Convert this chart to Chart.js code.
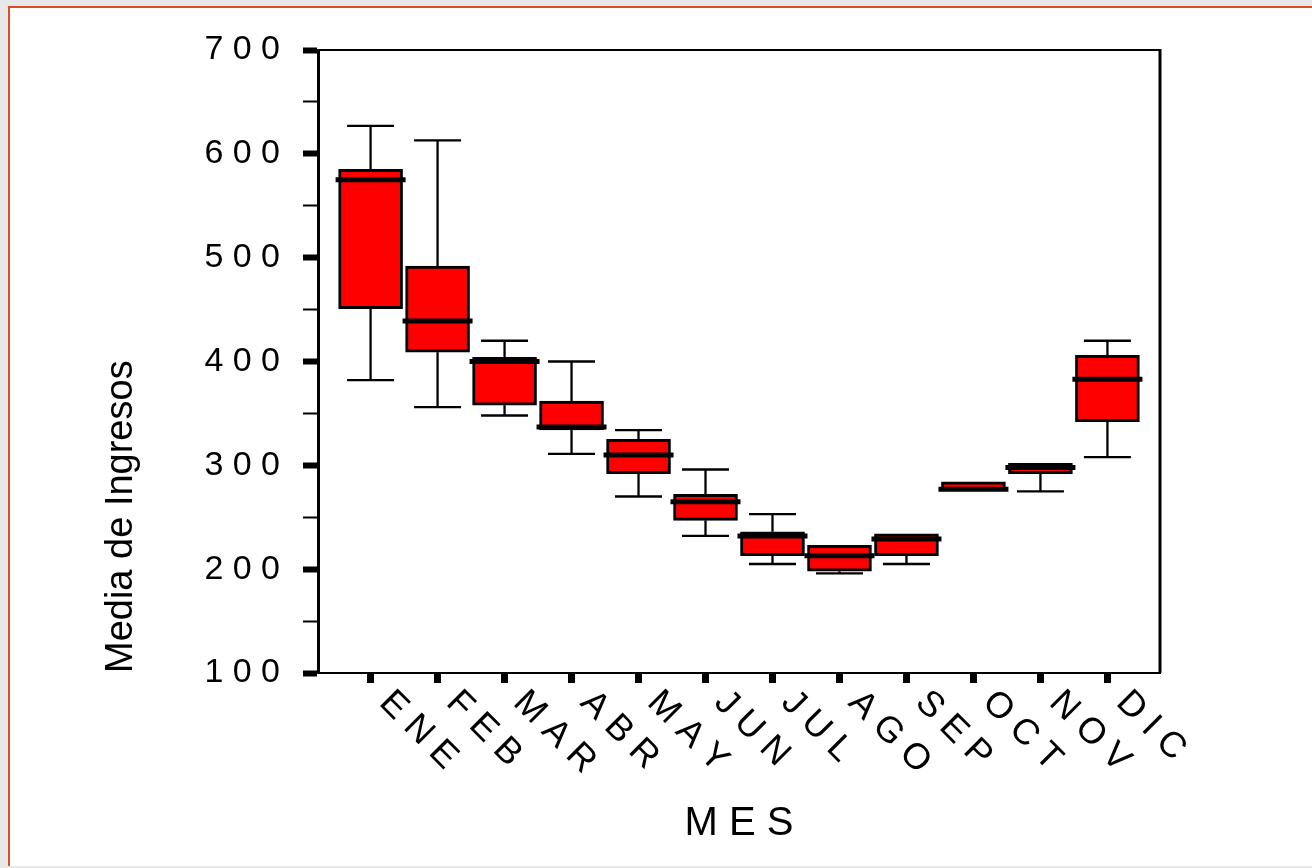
<!DOCTYPE html>
<html>
<head>
<meta charset="utf-8">
<script src="https://cdn.jsdelivr.net/npm/chart.js@4.4.1/dist/chart.umd.min.js"></script>
<style>
  html, body { margin: 0; padding: 0; background: #e8e8e8; width: 1312px; height: 868px; overflow: hidden; }
  #panel { position: absolute; left: 8px; top: 6px; width: 1302px; height: 858px; background: #ffffff;
           border-left: 2px solid #dc4f1f; border-top: 2px solid #dc4f1f; }
  #c { position: absolute; left: 0; top: 0; }
</style>
</head>
<body>
<div id="panel"></div>
<canvas id="c" width="1312" height="868"></canvas>
<script>
// ---- data ----
const categories = ['ENE', 'FEB', 'MAR', 'ABR', 'MAY', 'JUN', 'JUL', 'AGO', 'SEP', 'OCT', 'NOV', 'DIC'];
const minVals    = [382, 356, 348, 311, 270, 232, 205, 196, 205, 276, 275, 308];
const q1Vals     = [451, 409, 358, 334, 292, 247, 213, 198, 213, 276, 292, 342];
const medianVals = [575, 439, 400, 337, 310, 265, 232, 213, 229, 277, 298, 383];
const q3Vals     = [585, 492, 404, 362, 325, 272, 236, 223, 234, 284, 302, 406];
const maxVals    = [627, 613, 420, 400, 334, 296, 253, 223, 234, 284, 302, 420];
const yTickValues = [100, 200, 300, 400, 500, 600, 700];
const yTickLabels = ['1 0 0', '2 0 0', '3 0 0', '4 0 0', '5 0 0', '6 0 0', '7 0 0'];
const yAxisTitle = 'Media de Ingresos';
const xAxisTitle = 'M E S';

const FONT = '"Liberation Sans", Arial, Helvetica, sans-serif';

const boxData = categories.map((c, i) => ({ x: i, y: [q1Vals[i], q3Vals[i]] }));

const whiskerPlugin = {
  id: 'whiskers',
  afterDatasetsDraw(chart) {
    const { ctx, scales: { x, y } } = chart;
    ctx.save();
    ctx.strokeStyle = '#000';
    ctx.lineCap = 'butt';
    const capHalf = 23.5, medHalf = 35;
    const line = (x1, y1, x2, y2) => { ctx.beginPath(); ctx.moveTo(x1, y1); ctx.lineTo(x2, y2); ctx.stroke(); };
    categories.forEach((c, i) => {
      const cx = x.getPixelForValue(i);
      const pMin = y.getPixelForValue(minVals[i]);
      const pQ1 = y.getPixelForValue(q1Vals[i]);
      const pMed = y.getPixelForValue(medianVals[i]);
      const pQ3 = y.getPixelForValue(q3Vals[i]);
      const pMax = y.getPixelForValue(maxVals[i]);
      ctx.lineWidth = 2.3;
      if (maxVals[i] > q3Vals[i]) { line(cx, pQ3, cx, pMax); line(cx - capHalf, pMax, cx + capHalf, pMax); }
      if (minVals[i] < q1Vals[i]) { line(cx, pQ1, cx, pMin); line(cx - capHalf, pMin, cx + capHalf, pMin); }
      ctx.lineWidth = 5;
      line(cx - medHalf, pMed, cx + medHalf, pMed);
    });
    ctx.restore();
  },
  afterDraw(chart) {
    const { ctx, chartArea: a, scales: { x } } = chart;
    ctx.save();
    // frame: top and right
    ctx.strokeStyle = '#000';
    ctx.lineWidth = 2;
    ctx.beginPath(); ctx.moveTo(a.left, a.top); ctx.lineTo(a.right, a.top); ctx.stroke();
    ctx.lineWidth = 3;
    ctx.beginPath(); ctx.moveTo(a.right, a.top - 1); ctx.lineTo(a.right, a.bottom); ctx.stroke();
    // rotated category labels, hanging down-right from each tick
    ctx.fillStyle = '#000';
    ctx.font = '36px ' + FONT;
    ctx.textAlign = 'left';
    ctx.textBaseline = 'alphabetic';
    categories.forEach((c, i) => {
      const cx = x.getPixelForValue(i);
      ctx.save();
      ctx.translate(cx + 7.5, a.bottom + 31);
      ctx.rotate(Math.PI / 4);
      ctx.fillText(c.split('').join(' '), 0, 0);
      ctx.restore();
    });
    ctx.restore();
  }
};

new Chart(document.getElementById('c'), {
  type: 'bar',
  data: {
    datasets: [{
      data: boxData,
      backgroundColor: '#ff0000',
      borderColor: '#000000',
      borderWidth: 3,
      borderSkipped: false,
      barThickness: 64
    }]
  },
  options: {
    responsive: false,
    animation: false,
    devicePixelRatio: 1,
    layout: { padding: { top: 50, right: 152, left: 0, bottom: 0 } },
    plugins: { legend: { display: false }, tooltip: { enabled: false } },
    scales: {
      x: {
        type: 'linear',
        offset: false,
        min: -0.785,
        max: 11.785,
        afterBuildTicks(scale) { scale.ticks = categories.map((c, i) => ({ value: i })); },
        afterFit(scale) { scale.height = 195; },
        ticks: { display: false },
        grid: { offset: false, drawOnChartArea: false, drawTicks: true, tickLength: 10, tickWidth: 7, tickColor: '#000' },
        border: { display: true, color: '#000', width: 2 },
        title: { display: true, text: xAxisTitle, color: '#000', font: { family: FONT, size: 40 }, padding: { top: 0, bottom: 20 } }
      },
      y: {
        min: 100,
        max: 700,
        afterBuildTicks(scale) {
          const t = [];
          for (let v = scale.min; v <= scale.max; v += 50) t.push({ value: v });
          scale.ticks = t;
        },
        afterFit(scale) { scale.width = 318; },
        ticks: {
          color: '#000',
          font: { family: FONT, size: 34 },
          padding: 23,
          callback(value) { const k = yTickValues.indexOf(value); return k >= 0 ? yTickLabels[k] : ''; }
        },
        grid: {
          drawOnChartArea: false, drawTicks: true, tickLength: 15, tickColor: '#000',
          tickWidth: (ctx) => (ctx.tick && yTickValues.includes(ctx.tick.value) ? 6 : 2)
        },
        border: { display: true, color: '#000', width: 3 },
        title: { display: true, text: yAxisTitle, align: 'start', color: '#000', font: { family: FONT, size: 38 }, padding: { top: 99, bottom: 0 } }
      }
    }
  },
  plugins: [whiskerPlugin]
});
</script>
</body>
</html>
